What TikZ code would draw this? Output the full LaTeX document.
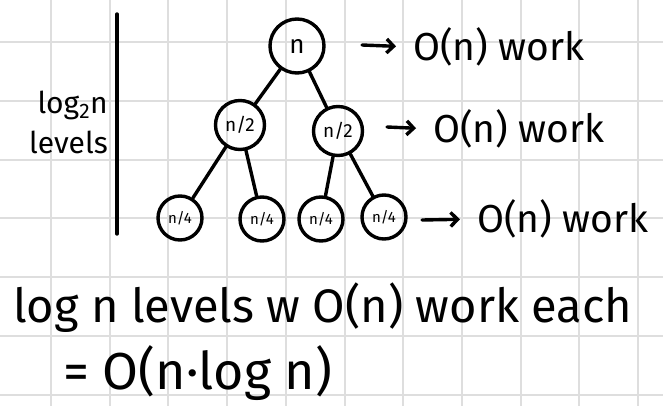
\documentclass[tikz,border=0pt]{standalone}
\usepackage{fontspec}
\setmainfont{Fira Sans}
\usetikzlibrary{arrows.meta}

\tikzset{
  ink/.style={line width=3.4pt, draw=black, line cap=round},
  gridline/.style={line width=2pt, draw=black!13},
  rootnode/.style={shape=circle, ink, minimum size=54pt, inner sep=0pt, font=\fontsize{26}{26}\selectfont},
  halfnode/.style={shape=circle, ink, minimum size=49pt, inner sep=0pt, font=\fontsize{19}{19}\selectfont},
  quarternode/.style={shape=circle, ink, minimum size=44pt, inner sep=0pt, font=\fontsize{15}{15}\selectfont},
  worklabel/.style={anchor=west, inner sep=0pt, font=\fontsize{39}{39}\selectfont},
  sumlabel/.style={anchor=base west, inner sep=0pt, font=\fontsize{47}{47}\selectfont},
  workarrow/.style={ink, -{Straight Barb[length=7pt,width=14pt]}, shorten >=17pt},
}

\begin{document}
\begin{tikzpicture}[x=1pt,y=-1pt]
\useasboundingbox[fill=white] (0,0) rectangle (663,406);
\foreach \k in {0,...,10}
  \draw[gridline] ({51+58.7*\k},0) -- ({51+58.7*\k},406);
\foreach \k in {0,...,6}
  \draw[gridline] (0,{42+58.8*\k}) -- (663,{42+58.8*\k});

\node[rootnode] (root) at (297,46) {n};
\node[halfnode] (h1) at (240,125) {n/2};
\node[halfnode] (h2) at (338,131) {n/2};
\node[quarternode] (q1) at (180,218) {n/4};
\node[quarternode] (q2) at (262,219) {n/4};
\node[quarternode] (q3) at (321,219) {n/4};
\node[quarternode] (q4) at (384,217) {n/4};

\path[ink] (root) edge (h1);
\path[ink] (root) edge (h2);
\path[ink] (h1) edge (q1);
\path[ink] (h1) edge (q2);
\path[ink] (h2) edge (q3);
\path[ink] (h2) edge (q4);

\node[worklabel] (w1) at (413,47) {O(n) work};
\node[worklabel] (w2) at (433,129) {O(n) work};
\node[worklabel] (w3) at (477,219) {O(n) work};
\coordinate (a1) at (362,45);
\coordinate (a2) at (387,127);
\coordinate (a3) at (422,220);
\draw[workarrow] (a1) -- (w1.west);
\draw[workarrow] (a2) -- (w2.west);
\draw[workarrow] (a3) -- (w3.west);

% levels bar
\node[anchor=east, align=right, inner sep=0pt, font=\fontsize{30}{40}\selectfont] (lv) at (108,122) {log\textsubscript{2}n\\levels};
\coordinate (bartop) at (117,14);
\coordinate (barbot) at (117,234);
\draw[ink] (bartop) -- (barbot);

\node[sumlabel] (s1) at (13,322) {log n levels w O(n) work each};
\node[sumlabel, font=\fontsize{52}{52}\selectfont] (s2) at (63,389) {= O(n·log n)};
\end{tikzpicture}
\end{document}
